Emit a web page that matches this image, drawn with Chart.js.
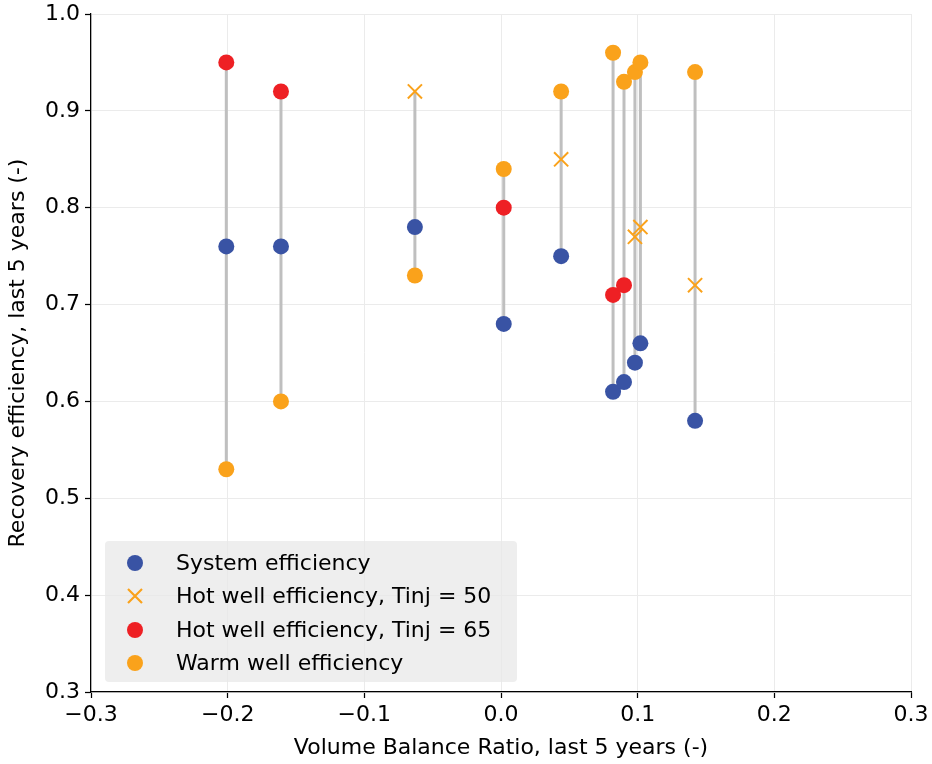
<!DOCTYPE html>
<html>
<head>
<meta charset="utf-8">
<script src="https://cdn.jsdelivr.net/npm/chart.js@4/dist/chart.umd.min.js"></script>
<style>
  html, body { margin: 0; padding: 0; background: #fff; }
  #wrap { position: relative; width: 932px; height: 764px; }
  #legend {
    position: absolute; left: 105px; top: 541px; width: 412px; height: 141px;
    background: rgba(232,232,232,0.75); border-radius: 4px; box-sizing: border-box;
    font-family: 'DejaVu Sans', sans-serif; font-size: 22px; color: #000;
  }
  .row { position: absolute; left: 0; height: 30px; display: flex; align-items: center; }
  .mk { position: absolute; left: 22px; width: 16px; height: 16px; }
  .txt { position: absolute; left: 71px; white-space: nowrap; line-height: 30px; }
</style>
</head>
<body>
<div id="wrap">
  <canvas id="c" width="932" height="764"></canvas>
  <div id="legend"></div>
</div>
<script>
// ---- data ----
const vbr    = [-0.201, -0.161, -0.063, 0.002, 0.044, 0.082, 0.090, 0.098, 0.102, 0.142];
const system = [0.76, 0.76, 0.78, 0.68, 0.75, 0.61, 0.62, 0.64, 0.66, 0.58];
const hot50  = [null, null, 0.92, null, 0.85, null, null, 0.77, 0.78, 0.72];
const hot65  = [0.95, 0.92, null, 0.80, null, 0.71, 0.72, null, null, null];
const warm   = [0.53, 0.60, 0.73, 0.84, 0.92, 0.96, 0.93, 0.94, 0.95, 0.94];
const xTicks = [-0.3, -0.2, -0.1, 0.0, 0.1, 0.2, 0.3];
const yTicks = [0.3, 0.4, 0.5, 0.6, 0.7, 0.8, 0.9, 1.0];
const labels = ['System efficiency', 'Hot well efficiency, Tinj = 50', 'Hot well efficiency, Tinj = 65', 'Warm well efficiency'];

const BLUE = '#3953a4', RED = '#ee2024', ORANGE = '#faa21b', GREY = '#bfbfbf';
const FONT = "'DejaVu Sans', sans-serif";

function pts(arr) {
  const out = [];
  arr.forEach((v, i) => { if (v !== null) out.push({x: vbr[i], y: v}); });
  return out;
}

const datasets = [];
vbr.forEach((x, i) => {
  const vals = [system[i], hot50[i], hot65[i], warm[i]].filter(v => v !== null);
  datasets.push({
    type: 'line',
    data: [{x: x, y: Math.min(...vals)}, {x: x, y: Math.max(...vals)}],
    borderColor: GREY, borderWidth: 3, pointRadius: 0, fill: false, order: 10
  });
});
datasets.push({ type: 'scatter', label: labels[0], data: pts(system), pointStyle: 'circle', pointRadius: 8,
  backgroundColor: BLUE, borderColor: BLUE, borderWidth: 0, order: 4 });
datasets.push({ type: 'scatter', label: labels[1], data: pts(hot50), pointStyle: 'crossRot', pointRadius: 10,
  backgroundColor: ORANGE, borderColor: ORANGE, borderWidth: 2, order: 3 });
datasets.push({ type: 'scatter', label: labels[2], data: pts(hot65), pointStyle: 'circle', pointRadius: 8,
  backgroundColor: RED, borderColor: RED, borderWidth: 0, order: 2 });
datasets.push({ type: 'scatter', label: labels[3], data: pts(warm), pointStyle: 'circle', pointRadius: 8,
  backgroundColor: ORANGE, borderColor: ORANGE, borderWidth: 0, order: 1 });

function fmt(v) {
  if (Math.abs(v) < 1e-9) return '0.0';
  return (v < 0 ? '\u2212' : '') + Math.abs(v).toFixed(1);
}

Chart.defaults.font.family = FONT;
Chart.defaults.color = '#000';

new Chart(document.getElementById('c'), {
  type: 'scatter',
  data: { datasets },
  options: {
    responsive: false,
    animation: false,
    layout: { padding: { top: 14, right: 21, left: 0, bottom: 0 } },
    plugins: { legend: { display: false }, tooltip: { enabled: false } },
    scales: {
      x: {
        type: 'linear', min: -0.3, max: 0.3,
        afterBuildTicks: s => { s.ticks = xTicks.map(v => ({value: v})); },
        afterFit: s => { s.height = 72; s.paddingLeft = 0; s.paddingRight = 0; },
        ticks: { callback: fmt, font: { size: 22 }, color: '#000', padding: 4, maxRotation: 0 },
        grid: { color: '#ebebeb', lineWidth: 1, tickColor: '#000', tickLength: 6, tickWidth: 1.25 },
        border: { color: '#000', width: 1.25 },
        title: { display: true, text: 'Volume Balance Ratio, last 5 years (-)', font: { size: 22 }, color: '#000', padding: 3 }
      },
      y: {
        type: 'linear', min: 0.3, max: 1.0,
        afterBuildTicks: s => { s.ticks = yTicks.map(v => ({value: v})); },
        afterFit: s => { s.width = 91; s.paddingTop = 0; s.paddingBottom = 0; },
        ticks: { callback: fmt, font: { size: 22 }, color: '#000', padding: 5 },
        grid: { color: '#ebebeb', lineWidth: 1, tickColor: '#000', tickLength: 6, tickWidth: 1.25 },
        border: { color: '#000', width: 1.25 },
        title: { display: true, text: 'Recovery efficiency, last 5 years (-)', font: { size: 22 }, color: '#000', padding: 5 }
      }
    }
  }
});

// HTML legend built from the labels and colors
const legendEl = document.getElementById('legend');
const markers = [
  '<svg class="mk" viewBox="0 0 16 16"><circle cx="8" cy="8" r="8" fill="' + BLUE + '"/></svg>',
  '<svg class="mk" viewBox="0 0 16 16"><path d="M1 1 L15 15 M15 1 L1 15" stroke="' + ORANGE + '" stroke-width="2.2"/></svg>',
  '<svg class="mk" viewBox="0 0 16 16"><circle cx="8" cy="8" r="8" fill="' + RED + '"/></svg>',
  '<svg class="mk" viewBox="0 0 16 16"><circle cx="8" cy="8" r="8" fill="' + ORANGE + '"/></svg>'
];
labels.forEach((t, i) => {
  const row = document.createElement('div');
  row.className = 'row';
  row.style.top = (7 + i * 33.3) + 'px';
  row.style.width = '100%';
  row.innerHTML = markers[i] + '<span class="txt">' + t + '</span>';
  legendEl.appendChild(row);
});
</script>
</body>
</html>
